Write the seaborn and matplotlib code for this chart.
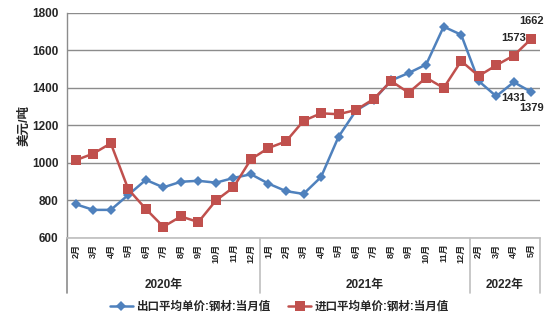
import matplotlib
matplotlib.use("Agg")
import matplotlib.pyplot as plt
import matplotlib.transforms as mtransforms
from matplotlib.lines import Line2D
import seaborn as sns
import pandas as pd

# Monthly categories grouped by year
years = ["2020年", "2021年", "2022年"]
months_2020 = ["2月", "3月", "4月", "5月", "6月", "7月", "8月", "9月", "10月", "11月", "12月"]
months_2021 = ["1月", "2月", "3月", "4月", "5月", "6月", "7月", "8月", "9月", "10月", "11月", "12月"]
months_2022 = ["2月", "3月", "4月", "5月"]

export_name = "出口平均单价:钢材:当月值"
import_name = "进口平均单价:钢材:当月值"

export_price = [780, 750, 750, 830, 910, 870, 900, 905, 895, 920, 940,
                890, 850, 835, 925, 1140, 1280, 1335, 1440, 1480, 1525, 1727, 1684,
                1437, 1356, 1431, 1379]
import_price = [1015, 1050, 1105, 860, 755, 660, 715, 685, 800, 870, 1020,
                1080, 1115, 1225, 1265, 1260, 1283, 1341, 1437, 1375, 1455, 1400, 1544,
                1464, 1521, 1573, 1662]

labels_all = months_2020 + months_2021 + months_2022
group_sizes = [len(months_2020), len(months_2021), len(months_2022)]
n = len(labels_all)

df = pd.DataFrame({
    "pos": list(range(n)) * 2,
    "value": export_price + import_price,
    "series": [export_name] * n + [import_name] * n,
})

sns.set_theme(style="white")
plt.rcParams["font.family"] = ["Liberation Sans", "Noto Sans CJK SC"]
plt.rcParams["font.weight"] = "bold"

blue = "#4F81BD"
red = "#C0504D"
grid_c = "#8C8C8C"

fig = plt.figure(figsize=(5.55, 3.28), dpi=100)
ax = fig.add_axes([0.1207, 0.2744, 0.973 - 0.1207, 0.9604 - 0.2744])

sns.lineplot(data=df, x="pos", y="value", hue="series", style="series",
             palette={export_name: blue, import_name: red},
             markers={export_name: "D", import_name: "s"},
             dashes=False, linewidth=1.8, markeredgewidth=0,
             ax=ax, legend=False)
for line in ax.lines:
    if line.get_color() == red or line.get_markerfacecolor() == red:
        line.set_markersize(7.5)
    else:
        line.set_markersize(5)

ax.set_xlim(-0.5, n - 0.5)
ax.set_ylim(600, 1800)
ax.set_yticks(range(600, 1801, 200))
ax.yaxis.grid(True, color=grid_c, linewidth=1)
ax.set_axisbelow(True)
for s in ["top", "right"]:
    ax.spines[s].set_visible(False)
ax.spines["left"].set_color(grid_c)
ax.spines["bottom"].set_color("#BFBFBF")
ax.spines["left"].set_linewidth(1)
ax.spines["bottom"].set_linewidth(1.2)

ax.set_xticks(range(n))
ax.set_xticklabels(labels_all, rotation=90, fontsize=6.5, fontweight="bold")
ax.tick_params(axis="x", length=0, pad=4)
ax.tick_params(axis="y", length=0, pad=6, labelsize=8.5)
for t in ax.get_yticklabels():
    t.set_fontweight("bold")
ax.set_xlabel("")
ax.set_ylabel("美元/吨", fontsize=9, fontweight="bold", labelpad=1)

# Year grouping below the month labels
trans = mtransforms.blended_transform_factory(ax.transData, ax.transAxes)
bottom_y = -0.245
start = -0.5
bounds = [start]
for size, yr in zip(group_sizes, years):
    end = start + size
    ax.text((start + end) / 2, -0.21, yr, transform=trans, ha="center", va="center",
            fontsize=8.5, fontweight="bold")
    bounds.append(end)
    start = end
for b in bounds:
    ax.plot([b, b], [0, bottom_y], transform=trans, color="#BFBFBF" if b != bounds[0] else grid_c,
            linewidth=1.2, clip_on=False)

# Value labels on the latest points
for idx in (n - 2, n - 1):
    ax.annotate(f"{import_price[idx]}", (idx, import_price[idx]), xytext=(0, 9),
                textcoords="offset points", ha="center", va="bottom", fontsize=8, fontweight="bold")
    ax.annotate(f"{export_price[idx]}", (idx, export_price[idx]), xytext=(0, -8),
                textcoords="offset points", ha="center", va="top", fontsize=8, fontweight="bold")

# Legend
handles = [
    Line2D([], [], color=blue, marker="D", markersize=5, markeredgewidth=0, linewidth=1.8),
    Line2D([], [], color=red, marker="s", markersize=7.5, markeredgewidth=0, linewidth=1.8),
]
fig.legend(handles, [export_name, import_name], loc="center", bbox_to_anchor=(0.503, 0.064),
           ncol=2, frameon=False, prop={"weight": "bold", "size": 8.3},
           handlelength=2.0, handletextpad=0.25, columnspacing=1.6)

fig.savefig("out.png", dpi=100)
